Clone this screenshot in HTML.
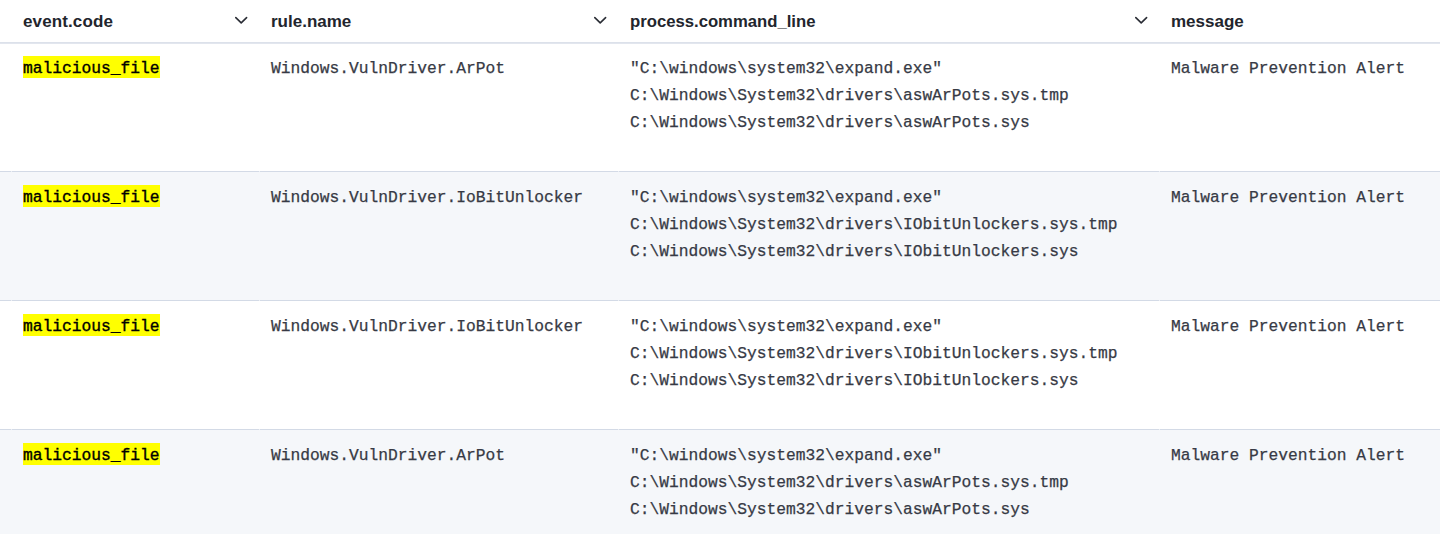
<!DOCTYPE html>
<html>
<head>
<meta charset="utf-8">
<style>
html,body{margin:0;padding:0;background:#fff;}
body{width:1440px;height:534px;overflow:hidden;position:relative;}
.hdr{position:absolute;left:0;top:0;width:1440px;height:42px;border-bottom:1px solid #dce1ea;box-shadow:0 1px 0 #e2e6ee;background:#fff;z-index:2;}
.h{position:absolute;top:11.5px;font-family:"Liberation Sans",sans-serif;font-weight:bold;font-size:17px;line-height:20px;color:#22252d;white-space:nowrap;}
.chev{position:absolute;top:15px;width:14px;height:10px;}
.row{position:absolute;left:0;width:1440px;height:128px;border-bottom:1px solid #d3dae6;}
.row.s{background:#f5f7fa;}
.c{position:absolute;top:0;font-family:"Liberation Mono",monospace;font-size:16.25px;line-height:26.8px;color:#373a45;white-space:pre;-webkit-text-stroke:0.25px #373a45;}
.c1{left:23px;}
.c2{left:271px;}
.c3{left:630px;}
.c4{left:1171px;}
.gap{position:absolute;bottom:-1px;width:1px;height:1px;background:#eceff4;}
.cell{position:absolute;top:13px;}
mark{background:#ffff00;color:#000;-webkit-text-stroke:0.35px #000;padding:2px 0 0 0;display:inline-block;line-height:22px;height:22px;box-sizing:border-box;vertical-align:top;}
</style>
</head>
<body>
<div class="hdr">
  <div class="h" style="left:23px;letter-spacing:0.12px">event.code</div>
  <svg class="chev" style="left:234px" viewBox="0 0 14 10"><path d="M1.8 2.6 L7.2 7.9 L12.6 2.6" fill="none" stroke="#2a2d35" stroke-width="1.6" stroke-linecap="round" stroke-linejoin="round"/></svg>
  <div class="h" style="left:271px">rule.name</div>
  <svg class="chev" style="left:593px" viewBox="0 0 14 10"><path d="M1.8 2.6 L7.2 7.9 L12.6 2.6" fill="none" stroke="#2a2d35" stroke-width="1.6" stroke-linecap="round" stroke-linejoin="round"/></svg>
  <div class="h" style="left:630px;font-size:16.7px">process.command_line</div>
  <svg class="chev" style="left:1134px" viewBox="0 0 14 10"><path d="M1.8 2.6 L7.2 7.9 L12.6 2.6" fill="none" stroke="#2a2d35" stroke-width="1.6" stroke-linecap="round" stroke-linejoin="round"/></svg>
  <div class="h" style="left:1171px">message</div>
</div>

<div class="row" style="top:43px">
  <div class="gap" style="left:11px"></div><div class="gap" style="left:259px"></div><div class="gap" style="left:618px"></div><div class="gap" style="left:1159px"></div>
  <div class="c c1 cell"><mark>malicious_file</mark></div>
  <div class="c c2 cell">Windows.VulnDriver.ArPot</div>
  <div class="c c3 cell">"C:\windows\system32\expand.exe"
C:\Windows\System32\drivers\aswArPots.sys.tmp
C:\Windows\System32\drivers\aswArPots.sys</div>
  <div class="c c4 cell">Malware Prevention Alert</div>
</div>

<div class="row s" style="top:172px">
  <div class="gap" style="left:11px"></div><div class="gap" style="left:259px"></div><div class="gap" style="left:618px"></div><div class="gap" style="left:1159px"></div>
  <div class="c c1 cell"><mark>malicious_file</mark></div>
  <div class="c c2 cell">Windows.VulnDriver.IoBitUnlocker</div>
  <div class="c c3 cell">"C:\windows\system32\expand.exe"
C:\Windows\System32\drivers\IObitUnlockers.sys.tmp
C:\Windows\System32\drivers\IObitUnlockers.sys</div>
  <div class="c c4 cell">Malware Prevention Alert</div>
</div>

<div class="row" style="top:301px">
  <div class="gap" style="left:11px"></div><div class="gap" style="left:259px"></div><div class="gap" style="left:618px"></div><div class="gap" style="left:1159px"></div>
  <div class="c c1 cell"><mark>malicious_file</mark></div>
  <div class="c c2 cell">Windows.VulnDriver.IoBitUnlocker</div>
  <div class="c c3 cell">"C:\windows\system32\expand.exe"
C:\Windows\System32\drivers\IObitUnlockers.sys.tmp
C:\Windows\System32\drivers\IObitUnlockers.sys</div>
  <div class="c c4 cell">Malware Prevention Alert</div>
</div>

<div class="row s" style="top:430px">
  <div class="gap" style="left:11px"></div><div class="gap" style="left:259px"></div><div class="gap" style="left:618px"></div><div class="gap" style="left:1159px"></div>
  <div class="c c1 cell"><mark>malicious_file</mark></div>
  <div class="c c2 cell">Windows.VulnDriver.ArPot</div>
  <div class="c c3 cell">"C:\windows\system32\expand.exe"
C:\Windows\System32\drivers\aswArPots.sys.tmp
C:\Windows\System32\drivers\aswArPots.sys</div>
  <div class="c c4 cell">Malware Prevention Alert</div>
</div>
</body>
</html>
